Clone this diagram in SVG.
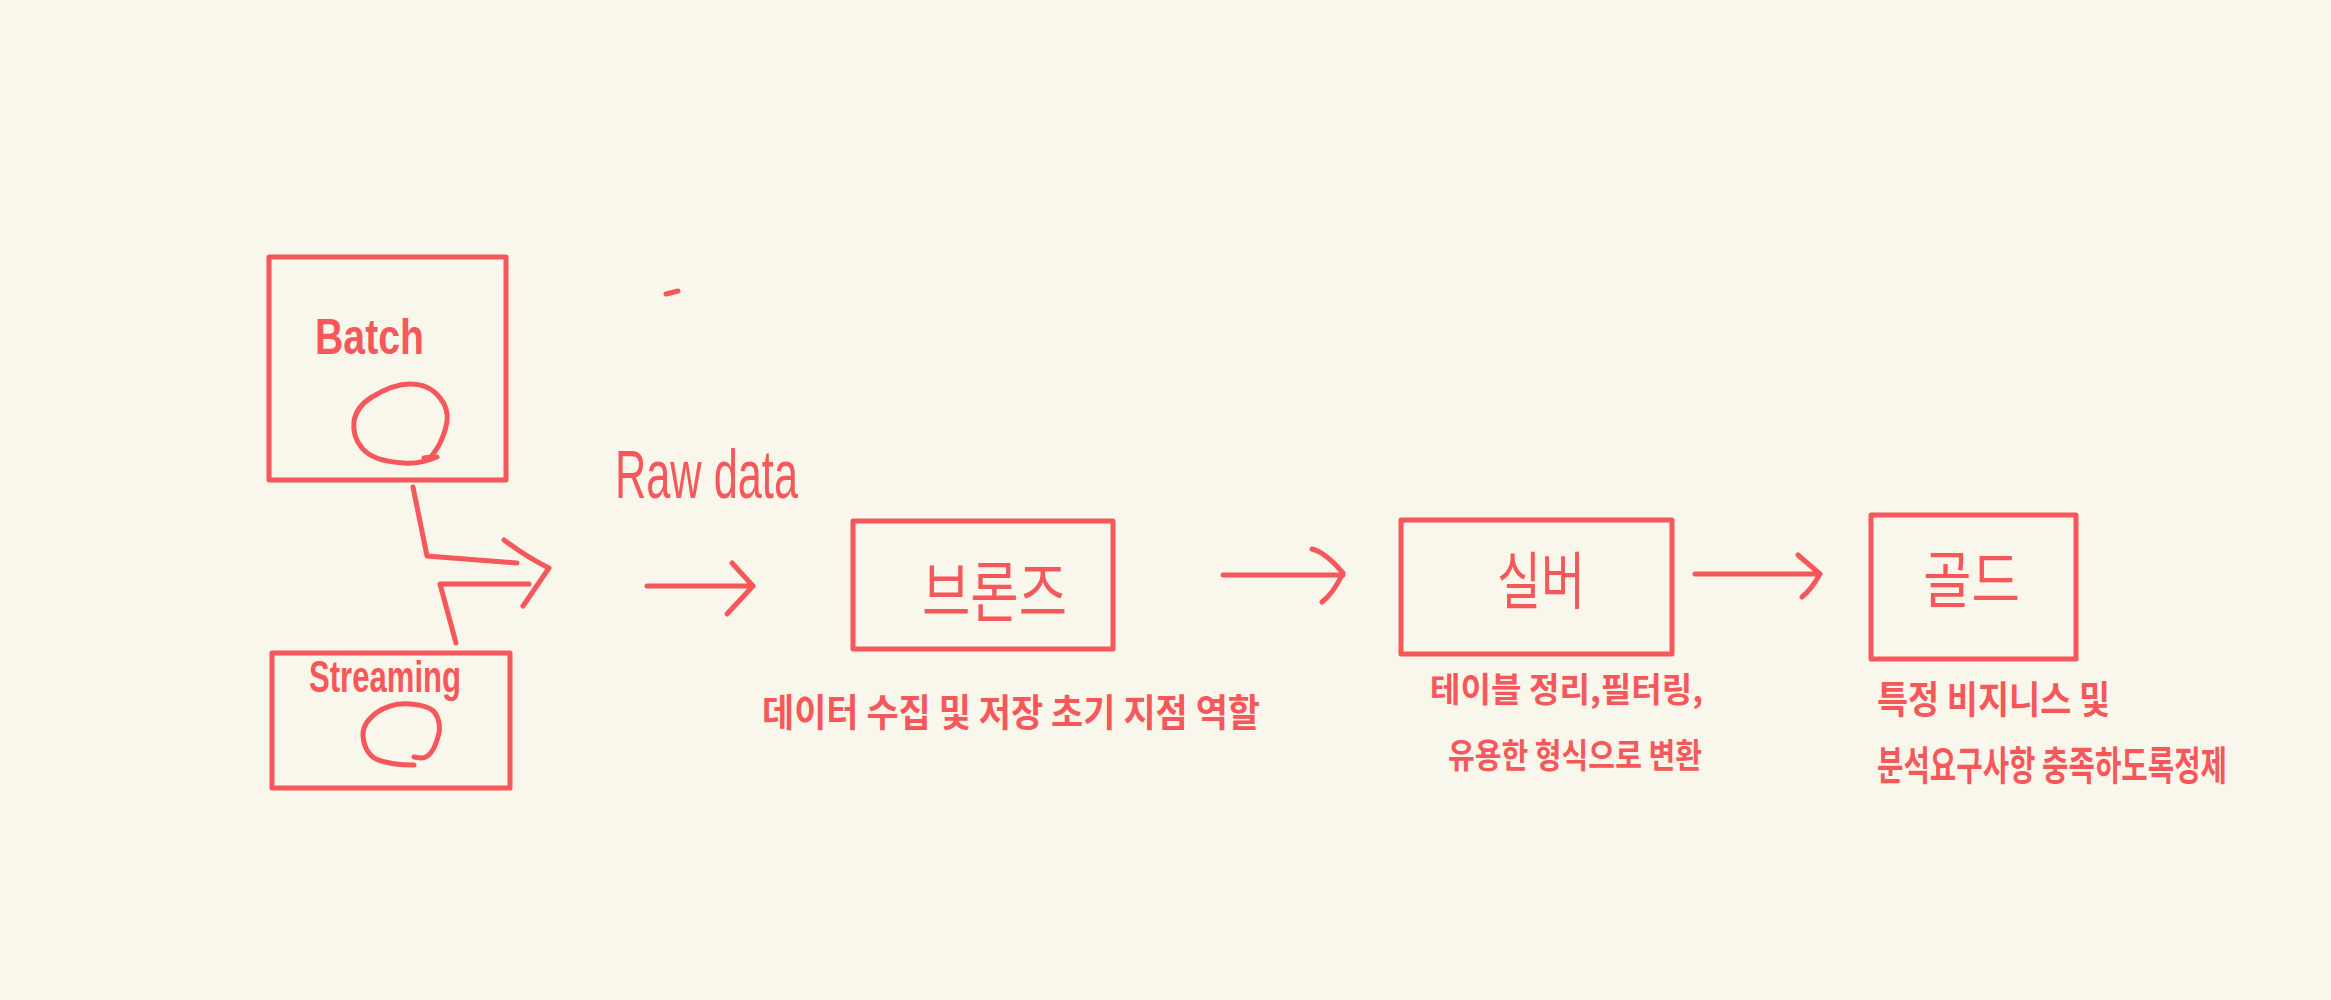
<svg xmlns="http://www.w3.org/2000/svg" width="2331" height="1000" viewBox="0 0 2331 1000">
<style>
.box{fill:none;stroke:#F5575A;stroke-width:5;stroke-linejoin:round}
.ln{fill:none;stroke:#F5575A;stroke-width:5;stroke-linecap:round;stroke-linejoin:round}
.lat{fill:#F5575A;font-family:"Liberation Sans","Noto Sans",sans-serif}
.kr{fill:#F5575A;font-family:"Noto Sans CJK KR",sans-serif}
.sub{font-weight:bold}
</style>
<rect width="2331" height="1000" fill="#F9F7EB"/>
<g id="batch">
<rect class="box" x="269" y="257" width="237" height="223"/>
<text class="lat sub" x="315" y="354" font-size="50" textLength="109" lengthAdjust="spacingAndGlyphs">Batch</text>
<path class="ln" d="M437 457 C425 462 415 464 404 463 C385 462 370 458 362 448 C355 440 353 430 354 421 C356 410 362 403 372 397 C385 389 398 384 410 384 C424 384 434 390 440 398 C446 405 448 414 447 422 C445 432 442 441 436 450 L431 457 L424 458"/>
</g>
<g id="streaming">
<rect class="box" x="272" y="653" width="238" height="135"/>
<text class="lat sub" x="309" y="692" font-size="44" textLength="152" lengthAdjust="spacingAndGlyphs">Streaming</text>
<path class="ln" d="M414 765 C400 765 385 763 376 759 C368 755 363 745 363 734 C363 725 369 719 376 713 C386 706 398 703 410 704 C422 705 431 707 435 713 C439 719 440 727 439 733 C437 741 435 747 432 751 C429 756 426 758 421 758 L414 757"/>
</g>
<g id="rawdata">
<text class="lat" x="615" y="498" font-size="68" textLength="183" lengthAdjust="spacingAndGlyphs">Raw data</text>
<path class="ln" d="M666 294 L678 291"/>
</g>
<g id="bronze">
<rect class="box" x="853" y="521" width="260" height="128"/>
<text class="kr" x="922" y="616" font-size="66" textLength="145" lengthAdjust="spacingAndGlyphs">브론즈</text>
<text class="kr sub" x="762" y="726" font-size="38" textLength="498" lengthAdjust="spacingAndGlyphs">데이터  수집 및  저장 초기 지점 역할</text>
</g>
<g id="silver">
<rect class="box" x="1401" y="520" width="271" height="134"/>
<text class="kr" x="1497" y="604" font-size="62" textLength="88" lengthAdjust="spacingAndGlyphs">실버</text>
<text class="kr sub" x="1430" y="702" font-size="34" textLength="273" lengthAdjust="spacingAndGlyphs">테이블 정리,필터링,</text>
<text class="kr sub" x="1448" y="768" font-size="34" textLength="254" lengthAdjust="spacingAndGlyphs">유용한 형식으로 변환</text>
</g>
<g id="gold">
<rect class="box" x="1871" y="515" width="205" height="144"/>
<text class="kr" x="1923" y="603" font-size="62" textLength="97" lengthAdjust="spacingAndGlyphs">골드</text>
<text class="kr sub" x="1877" y="713" font-size="38" textLength="233" lengthAdjust="spacingAndGlyphs">특정 비지니스 및</text>
<text class="kr sub" transform="translate(1877,780) scale(0.6055,1)" x="0" y="0" font-size="40" textLength="578" lengthAdjust="spacingAndGlyphs">분석요구사항  충족하도록정제</text>
</g>
<g id="connectors">
<path class="ln" d="M413 487 L427 556 L517 563"/>
<path class="ln" d="M529 584 L440 584 L456 643"/>
<path class="ln" d="M504 540 Q528 558 549 568 Q538 584 523 606"/>
<path class="ln" d="M647 586 L753 586 M732 563 L753 586 L727 614"/>
<path class="ln" d="M1223 575 L1343 575 M1312 549 Q1325 552 1343 573 Q1333 594 1322 602"/>
<path class="ln" d="M1695 574 L1820 574 M1798 555 L1820 574 Q1811 590 1802 597"/>
</g>
</svg>
